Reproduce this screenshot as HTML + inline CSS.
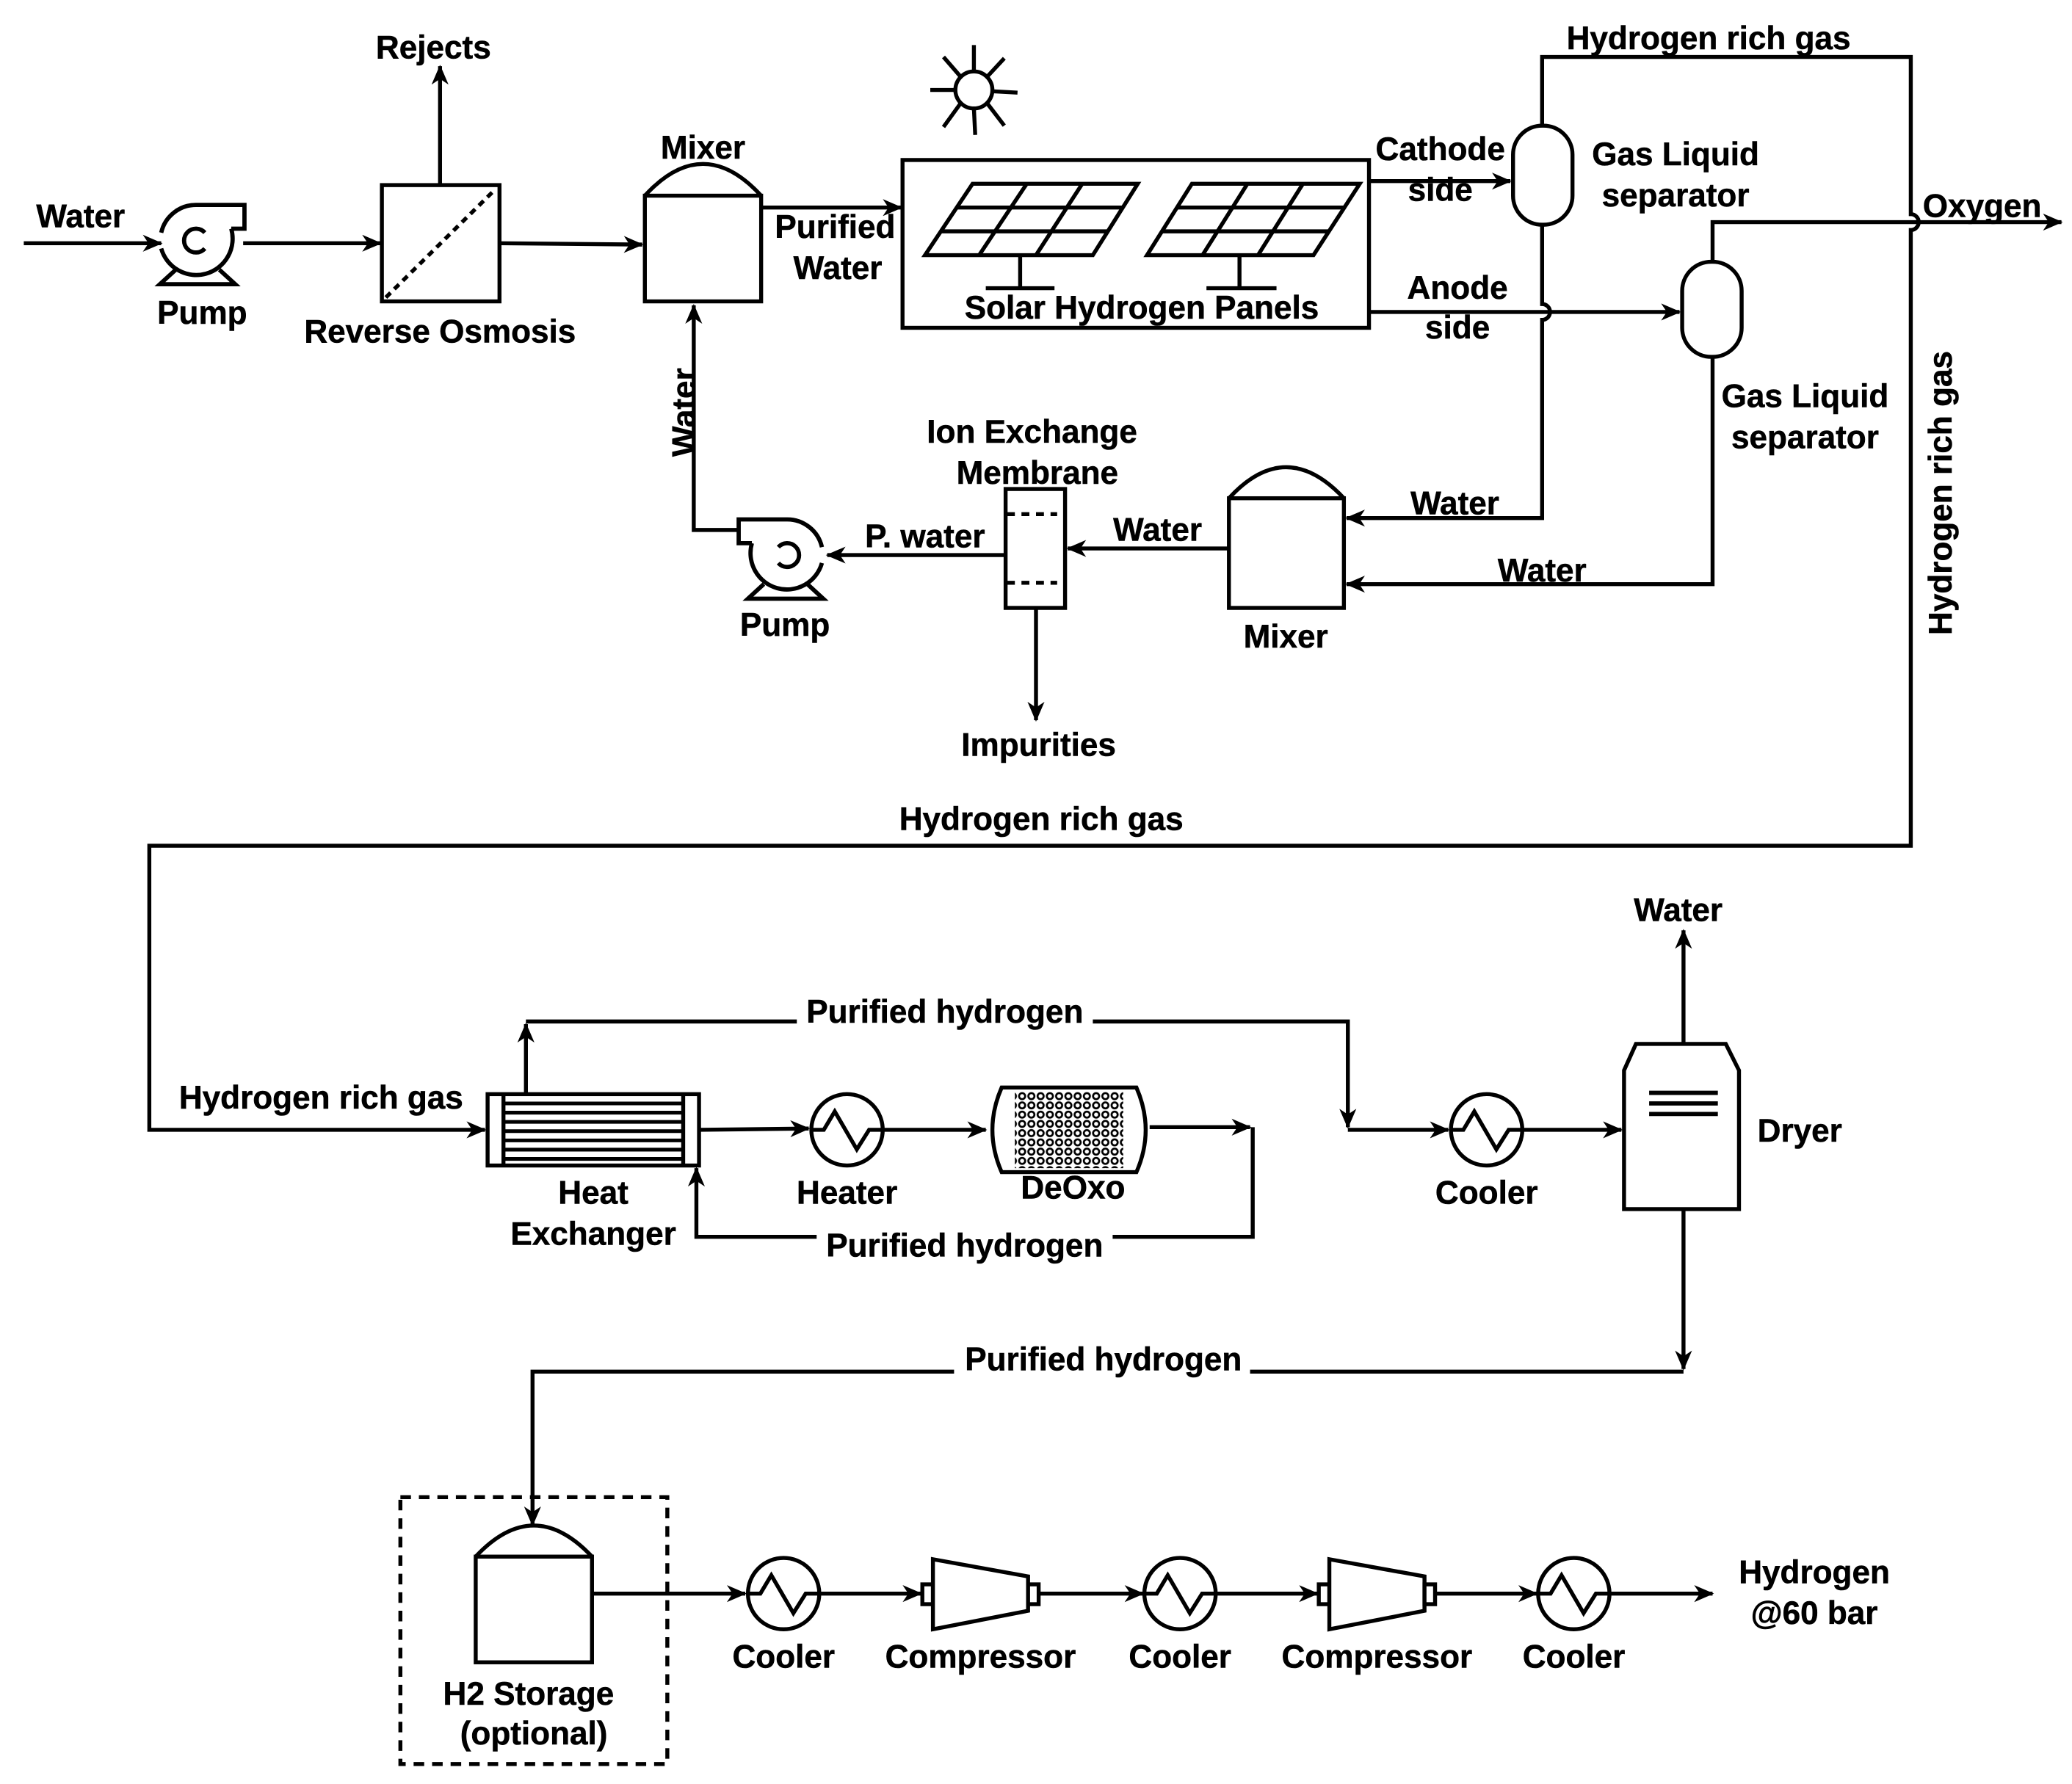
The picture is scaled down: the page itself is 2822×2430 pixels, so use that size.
<!DOCTYPE html>
<html><head><meta charset="utf-8"><style>
html,body{margin:0;padding:0;background:#fff;}
svg{display:block;}
text{font-family:"Liberation Sans",Arial,sans-serif;font-weight:bold;font-size:24.5px;fill:#000;stroke:#000;stroke-width:0.3px;}
</style></head><body>
<svg width="2822" height="2430" viewBox="0 0 1568 1350" xmlns="http://www.w3.org/2000/svg">
<defs>
<marker id="a" viewBox="0 0 14 12" refX="13" refY="6" markerWidth="15" markerHeight="13" markerUnits="userSpaceOnUse" orient="auto">
<path d="M0,0 L14,6 L0,12 L4,6 z" fill="#000"/></marker>
<g id="cool"><circle cx="0" cy="0" r="27" fill="#fff" stroke="#000" stroke-width="3"/>
<polyline points="-26,0 -17.6,0 -9.3,-13.9 7.4,14.8 16.7,0 26,0" fill="none" stroke="#000" stroke-width="3"/></g>
<g id="pump" fill="none" stroke="#000" stroke-width="3.2">
<path d="M-27,-6 A27,27 0 0 1 0,-27 L36,-27 L36,-9 L26,-9 M26,-9 A27,27 0 1 1 -27,6"/>
<path d="M6,-6 A9,9 0 1 0 6,6"/>
<path d="M-16,22 L-28,33 L29,33 L17,22"/></g>
<g id="comp" fill="#fff" stroke="#000" stroke-width="3">
<rect x="-8" y="-7" width="8" height="15"/>
<path d="M0,-26 L72,-13 L72,13 L0,27 z"/>
<rect x="72" y="-7" width="8" height="15"/></g>
<pattern id="dots" width="7" height="7" patternUnits="userSpaceOnUse">
<circle cx="3.5" cy="3.5" r="2.3" fill="none" stroke="#000" stroke-width="1.5"/></pattern>
</defs>
<g fill="none" stroke="#000" stroke-width="3">
<line x1="18" y1="184" x2="122" y2="184" marker-end="url(#a)"/>
<line x1="184" y1="184" x2="288" y2="184" marker-end="url(#a)"/>
<rect x="289" y="140" width="89" height="88"/>
<line x1="292" y1="225" x2="375" y2="143" stroke-dasharray="5,4"/>
<line x1="333" y1="140" x2="333" y2="50" marker-end="url(#a)"/>
<line x1="378" y1="184" x2="486" y2="185" marker-end="url(#a)"/>
<rect x="488" y="148" width="88" height="80"/>
<path d="M488,148 Q532,100 576,148"/>
<line x1="576" y1="157" x2="682" y2="157" marker-end="url(#a)"/>
<rect x="683" y="121" width="353" height="127"/>
<path d="M736,139 L861,139 L827,193 L700,193 z"/>
<line x1="724" y1="157" x2="849" y2="157"/><line x1="712" y1="175" x2="838" y2="175"/>
<line x1="777" y1="139" x2="741" y2="193"/><line x1="819" y1="139" x2="784" y2="193"/>
<line x1="772" y1="193" x2="772" y2="218"/><line x1="746" y1="218" x2="798" y2="218"/>
<path d="M902,139 L1029,139 L994,193 L868,193 z"/>
<line x1="890" y1="157" x2="1017" y2="157"/><line x1="879" y1="175" x2="1005" y2="175"/>
<line x1="944" y1="139" x2="910" y2="193"/><line x1="986" y1="139" x2="952" y2="193"/>
<line x1="938" y1="193" x2="938" y2="218"/><line x1="913" y1="218" x2="966" y2="218"/>
<circle cx="737" cy="68" r="14"/>
<line x1="737" y1="54" x2="737" y2="34"/><line x1="737" y1="82" x2="738" y2="102"/>
<line x1="723" y1="68" x2="704" y2="68"/><line x1="751" y1="69" x2="770" y2="70"/>
<line x1="727" y1="58" x2="714" y2="43"/><line x1="747" y1="58" x2="760" y2="44"/>
<line x1="727" y1="78" x2="714" y2="96"/><line x1="747" y1="78" x2="760" y2="95"/>
<line x1="1036" y1="137" x2="1143" y2="137" marker-end="url(#a)"/>
<rect x="1145" y="95" width="45" height="75" rx="22"/>
<path d="M1036,236 L1271,236" marker-end="url(#a)"/>
<rect x="1273" y="198" width="45" height="72" rx="22"/>
<path d="M1167,95 L1167,43 L1446,43 L1446,162 A6,6 0 0 1 1446,174 L1446,640 L113,640 L113,855 L367,855" marker-end="url(#a)"/>
<path d="M1296,198 L1296,168 L1560,168" marker-end="url(#a)"/>
<path d="M1167,170 L1167,230 A6,6 0 0 1 1167,242 L1167,392 L1019,392" marker-end="url(#a)"/>
<path d="M1296,270 L1296,442 L1019,442" marker-end="url(#a)"/>
<rect x="930" y="377" width="87" height="83"/>
<path d="M930,377 Q973,330 1017,377"/>
<line x1="930" y1="415" x2="808" y2="415" marker-end="url(#a)"/>
<rect x="761" y="370" width="45" height="90"/>
<line x1="762" y1="389" x2="800" y2="389" stroke-dasharray="6,5"/>
<line x1="762" y1="441" x2="800" y2="441" stroke-dasharray="6,5"/>
<line x1="784" y1="460" x2="784" y2="545" marker-end="url(#a)"/>
<line x1="761" y1="420" x2="626" y2="420" marker-end="url(#a)"/>
<path d="M559,401 L525,401 L525,231" marker-end="url(#a)"/>
<rect x="369" y="828" width="160" height="54"/>
<line x1="381" y1="828" x2="381" y2="882"/><line x1="517" y1="828" x2="517" y2="882"/>
<g stroke-width="2.8">
<line x1="381" y1="835" x2="517" y2="835"/><line x1="381" y1="842" x2="517" y2="842"/>
<line x1="381" y1="849" x2="517" y2="849"/><line x1="381" y1="856" x2="517" y2="856"/>
<line x1="381" y1="863" x2="517" y2="863"/><line x1="381" y1="870" x2="517" y2="870"/>
<line x1="381" y1="877" x2="517" y2="877"/></g>
<line x1="529" y1="855" x2="612" y2="854" marker-end="url(#a)"/>
<line x1="668" y1="855" x2="746" y2="855" marker-end="url(#a)"/>
<rect x="768" y="826" width="82" height="58" fill="url(#dots)" stroke="none"/>
<path d="M758,823 L860,823 Q874,855 860,887 L758,887 Q744,855 758,823 z"/>
<path d="M870,853 L946,853" marker-end="url(#a)"/>
<path d="M948,853 L948,936 L527,936 L527,884" marker-end="url(#a)"/>
<path d="M398,828 L398,775" marker-end="url(#a)"/>
<path d="M398,773 L1020,773 L1020,853" marker-end="url(#a)"/>
<line x1="1020" y1="855" x2="1096" y2="855" marker-end="url(#a)"/>
<line x1="1152" y1="855" x2="1227" y2="855" marker-end="url(#a)"/>
<path d="M1238,790 L1306,790 L1316,810 L1316,915 L1229,915 L1229,810 z"/>
<line x1="1248" y1="827" x2="1300" y2="827" stroke-width="3.2"/>
<line x1="1248" y1="835" x2="1300" y2="835" stroke-width="3.2"/>
<line x1="1248" y1="843" x2="1300" y2="843" stroke-width="3.2"/>
<line x1="1274" y1="790" x2="1274" y2="704" marker-end="url(#a)"/>
<line x1="1274" y1="915" x2="1274" y2="1036" marker-end="url(#a)"/>
<path d="M1274,1038 L403,1038 L403,1154" marker-end="url(#a)"/>
<rect x="303" y="1133" width="202" height="202" stroke-dasharray="8,6"/>
<rect x="360" y="1178" width="88" height="80"/>
<path d="M360,1178 Q404,1131 448,1178"/>
<line x1="448" y1="1206" x2="564" y2="1206" marker-end="url(#a)"/>
<line x1="620" y1="1206" x2="697" y2="1206" marker-end="url(#a)"/>
<line x1="786" y1="1206" x2="865" y2="1206" marker-end="url(#a)"/>
<line x1="920" y1="1206" x2="997" y2="1206" marker-end="url(#a)"/>
<line x1="1086" y1="1206" x2="1163" y2="1206" marker-end="url(#a)"/>
<line x1="1218" y1="1206" x2="1296" y2="1206" marker-end="url(#a)"/>
</g>
<use href="#pump" x="149" y="182"/>
<use href="#pump" transform="translate(595,420) scale(-1,1)"/>
<use href="#cool" x="641" y="855"/>
<use href="#cool" x="1125" y="855"/>
<use href="#cool" x="593" y="1206"/>
<use href="#cool" x="893" y="1206"/>
<use href="#cool" x="1191" y="1206"/>
<use href="#comp" x="706" y="1206"/>
<use href="#comp" x="1006" y="1206"/>
<g fill="#fff" stroke="none">
<rect x="603" y="760" width="224" height="22"/>
<rect x="618" y="928" width="224" height="22"/>
<rect x="722" y="1026" width="224" height="22"/>
</g>
<g text-anchor="middle">
<text x="61" y="172">Water</text>
<text x="153" y="245">Pump</text>
<text x="328" y="44">Rejects</text>
<text x="333" y="259">Reverse Osmosis</text>
<text x="532" y="120">Mixer</text>
<text x="632" y="180">Purified</text>
<text x="634" y="211">Water</text>
<text x="864" y="241">Solar Hydrogen Panels</text>
<text x="1090" y="121">Cathode</text>
<text x="1090" y="152">side</text>
<text x="1268" y="125">Gas Liquid</text>
<text x="1268" y="156">separator</text>
<text x="1293" y="37">Hydrogen rich gas</text>
<text x="1500" y="164">Oxygen</text>
<text x="1103" y="226">Anode</text>
<text x="1103" y="256">side</text>
<text x="1366" y="308">Gas Liquid</text>
<text x="1366" y="339">separator</text>
<text transform="translate(1477,373) rotate(-90)">Hydrogen rich gas</text>
<text x="1101" y="389">Water</text>
<text x="1167" y="440">Water</text>
<text x="973" y="490">Mixer</text>
<text x="876" y="409">Water</text>
<text x="781" y="335">Ion Exchange</text>
<text x="785" y="366">Membrane</text>
<text x="786" y="572">Impurities</text>
<text x="700" y="414">P. water</text>
<text x="594" y="481">Pump</text>
<text transform="translate(526,312) rotate(-90)">Water</text>
<text x="788" y="628">Hydrogen rich gas</text>
<text x="243" y="839">Hydrogen rich gas</text>
<text x="449" y="911">Heat</text>
<text x="449" y="942">Exchanger</text>
<text x="641" y="911">Heater</text>
<text x="812" y="907">DeOxo</text>
<text x="730" y="951">Purified hydrogen</text>
<text x="715" y="774">Purified hydrogen</text>
<text x="1125" y="911">Cooler</text>
<text x="1362" y="864">Dryer</text>
<text x="1270" y="697">Water</text>
<text x="835" y="1037">Purified hydrogen</text>
<text x="400" y="1290">H2 Storage</text>
<text x="404" y="1320">(optional)</text>
<text x="593" y="1262">Cooler</text>
<text x="742" y="1262">Compressor</text>
<text x="893" y="1262">Cooler</text>
<text x="1042" y="1262">Compressor</text>
<text x="1191" y="1262">Cooler</text>
<text x="1373" y="1198">Hydrogen</text>
<text x="1373" y="1229">@60 bar</text>
</g>
</svg>
</body></html>
